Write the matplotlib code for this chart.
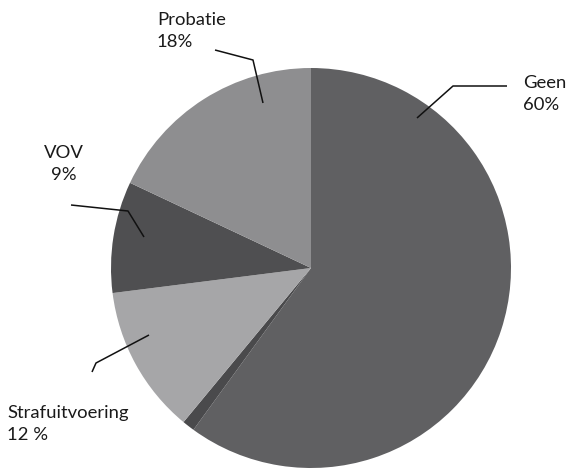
import matplotlib
matplotlib.use("Agg")
import matplotlib.pyplot as plt

# Sentence type shares (clockwise from the top)
categories = ["Geen", "Overig", "Strafuitvoering", "VOV", "Probatie"]
shares = [60, 1, 12, 9, 18]
labels = ["Geen\n60%", None, "Strafuitvoering\n12 %", "VOV\n9%", "Probatie\n18%"]
colors = ["#606062", "#4a4a4c", "#a6a6a8", "#4f4f51", "#8e8e90"]

W, H = 568, 469
fig = plt.figure(figsize=(W / 100, H / 100), dpi=100)
ax = fig.add_axes([0, 0, 1, 1])

cx, cy, r = 311, H - 268, 200
ax.pie(shares, colors=colors, startangle=90, counterclock=False,
       center=(cx, cy), radius=r, wedgeprops=dict(linewidth=0))
ax.set_xlim(0, W)
ax.set_ylim(0, H)
ax.set_aspect("equal")
ax.axis("off")

font = dict(family="Lato", fontsize=13.3, color="#1a1a1a", linespacing=1.45)

# label text anchors (top-left, pixel space from the top) and leader polylines
label_pos = {
    "Geen": (523, 75, "left"),
    "Probatie": (157, 12, "left"),
    "VOV": (64, 145, "center"),
    "Strafuitvoering": (7, 405, "left"),
}
leaders = {
    "Geen": [(507, 86), (453, 86), (417, 118)],
    "Probatie": [(215, 50), (253, 60), (263, 103)],
    "VOV": [(71, 205), (128, 211), (144, 237)],
    "Strafuitvoering": [(92, 372), (96, 363), (149, 335)],
}

for cat, lab in zip(categories, labels):
    if lab is None:
        continue
    x, y, ha = label_pos[cat]
    ax.text(x, H - y, lab, ha=ha, va="top", multialignment=ha, **font)
    pts = leaders[cat]
    ax.plot([p[0] for p in pts], [H - p[1] for p in pts],
            color="#111111", linewidth=1.1, solid_capstyle="butt")

fig.savefig("out.png", dpi=100)
